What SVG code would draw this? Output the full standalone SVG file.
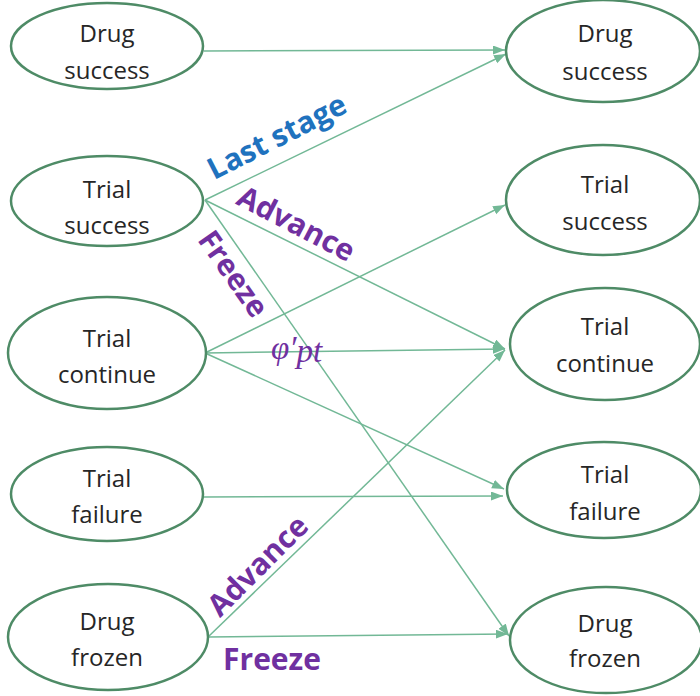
<svg xmlns="http://www.w3.org/2000/svg" width="700" height="696" viewBox="0 0 700 696">
<style>
.node ellipse{fill:#fff;stroke:#4E8B66;stroke-width:2.5}
.node text{font-family:"Open Sans","Noto Sans",sans-serif;font-size:24px;fill:#262626;text-anchor:middle}
.edges line{stroke:#72B896;stroke-width:1.5;marker-end:url(#ah)}
.lbl{font-family:"Open Sans","Noto Sans",sans-serif;font-weight:bold;font-size:30px;text-anchor:middle}
.blue{fill:#1F72BE}
.purple{fill:#7030A0}
</style>
<defs>
<marker id="ah" markerUnits="userSpaceOnUse" markerWidth="13" markerHeight="10" refX="12" refY="4.5" orient="auto">
<path d="M0,0 L12,4.5 L0,9 z" fill="#72B896"/>
</marker>
</defs>
<rect width="700" height="696" fill="#fff"/>
<g class="edges">
<line x1="204" y1="51" x2="505" y2="50"/>
<line x1="205" y1="200" x2="506" y2="54"/>
<line x1="205" y1="200" x2="505" y2="349"/>
<line x1="205" y1="200" x2="509" y2="636"/>
<line x1="205" y1="353" x2="505" y2="205"/>
<line x1="205" y1="353" x2="505" y2="349"/>
<line x1="205" y1="353" x2="504" y2="489"/>
<line x1="204" y1="497" x2="503" y2="496"/>
<line x1="208" y1="637" x2="505" y2="350"/>
<line x1="208" y1="637" x2="508" y2="634"/>
</g>
<g id="L_drug_success" class="node"><ellipse cx="107" cy="46" rx="96" ry="43"/><text x="107" y="42">Drug</text><text x="107" y="79">success</text></g>
<g id="L_trial_success" class="node"><ellipse cx="107" cy="201" rx="96" ry="45"/><text x="107" y="198">Trial</text><text x="107" y="234">success</text></g>
<g id="L_trial_continue" class="node"><ellipse cx="107" cy="353" rx="99" ry="56"/><text x="107" y="347">Trial</text><text x="107" y="383">continue</text></g>
<g id="L_trial_failure" class="node"><ellipse cx="107" cy="494" rx="96" ry="47"/><text x="107" y="487">Trial</text><text x="107" y="523">failure</text></g>
<g id="L_drug_frozen" class="node"><ellipse cx="108" cy="637" rx="100" ry="53"/><text x="107" y="630">Drug</text><text x="107" y="666">frozen</text></g>
<g id="R_drug_success" class="node"><ellipse cx="603" cy="51" rx="97" ry="51"/><text x="605" y="42">Drug</text><text x="605" y="80">success</text></g>
<g id="R_trial_success" class="node"><ellipse cx="603" cy="200" rx="97" ry="55"/><text x="605" y="193">Trial</text><text x="605" y="230">success</text></g>
<g id="R_trial_continue" class="node"><ellipse cx="605" cy="344" rx="95" ry="56"/><text x="605" y="335">Trial</text><text x="605" y="372">continue</text></g>
<g id="R_trial_failure" class="node"><ellipse cx="604" cy="490" rx="97" ry="48"/><text x="605" y="483">Trial</text><text x="605" y="520">failure</text></g>
<g id="R_drug_frozen" class="node"><ellipse cx="606" cy="640" rx="96" ry="53"/><text x="605" y="632">Drug</text><text x="605" y="667">frozen</text></g>
<g id="labels">
<text class="lbl blue" transform="translate(277,137) rotate(-27)" y="10">Last stage</text>
<text class="lbl purple" transform="translate(296,224) rotate(27.5)" y="10">Advance</text>
<text class="lbl purple" transform="translate(233,274) rotate(55)" y="10">Freeze</text>
<text class="lbl purple" transform="translate(258,566) rotate(-45)" y="10">Advance</text>
<text class="lbl purple" x="272" y="670">Freeze</text>
<text x="271" y="359" font-family="'Liberation Serif','DejaVu Serif',serif" font-style="italic" font-size="33" fill="#7030A0">φ′<tspan dy="3">pt</tspan></text>
</g>
</svg>
